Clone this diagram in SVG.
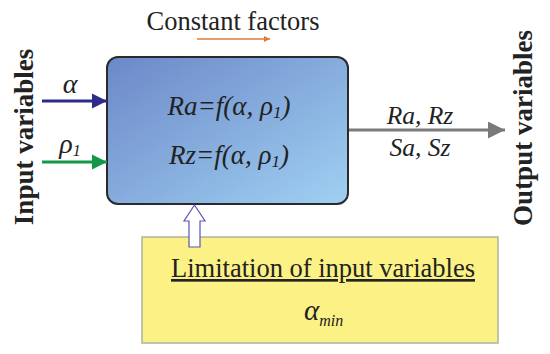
<svg xmlns="http://www.w3.org/2000/svg" width="550" height="354" viewBox="0 0 550 354">
<style>
  text { font-family: "Liberation Serif", "Times New Roman", serif; fill: #222; }
  .it { font-style: italic; }
  .bold { font-weight: bold; }
</style>
<defs>
  <linearGradient id="blueGrad" x1="0" y1="0" x2="1" y2="1">
    <stop offset="0" stop-color="#6c88c8"/>
    <stop offset="1" stop-color="#9fd0f2"/>
  </linearGradient>
  <marker id="mBlue" viewBox="0 0 10 10" refX="10" refY="5" markerWidth="15" markerHeight="16" markerUnits="userSpaceOnUse" orient="auto">
    <path d="M0,0 L10,5 L0,10 Z" fill="#2e2a8a"/>
  </marker>
  <marker id="mGreen" viewBox="0 0 10 10" refX="10" refY="5" markerWidth="15" markerHeight="16" markerUnits="userSpaceOnUse" orient="auto">
    <path d="M0,0 L10,5 L0,10 Z" fill="#13984a"/>
  </marker>
  <marker id="mGray" viewBox="0 0 10 10" refX="10" refY="5" markerWidth="18" markerHeight="17" markerUnits="userSpaceOnUse" orient="auto">
    <path d="M0,0 L10,5 L0,10 Z" fill="#7a7a7a"/>
  </marker>
  <marker id="mOrange" viewBox="0 0 10 10" refX="10" refY="5" markerWidth="7" markerHeight="6" markerUnits="userSpaceOnUse" orient="auto">
    <path d="M0,0 L10,5 L0,10 Z" fill="#e07a3a"/>
  </marker>
</defs>

<g id="constant-factors">
  <text x="233" y="30" font-size="26.5" text-anchor="middle">Constant factors</text>
</g>

<g id="input-label">
  <text class="bold" transform="translate(33,137) rotate(-90)" font-size="27" text-anchor="middle">Input variables</text>
</g>

<g id="output-label">
  <text class="bold" transform="translate(532,128) rotate(-90)" font-size="27" text-anchor="middle">Output variables</text>
</g>

<g id="model">
  <rect x="107" y="57" width="241" height="147" rx="11" ry="11" fill="url(#blueGrad)" stroke="#2a2a2a" stroke-width="2"/>
  <text class="it" x="229" y="115" font-size="27" text-anchor="middle">Ra=f(α, ρ<tspan font-size="17" dy="3">1</tspan><tspan dy="-3">)</tspan></text>
  <text class="it" x="229" y="164" font-size="27" text-anchor="middle">Rz=f(α, ρ<tspan font-size="17" dy="3">1</tspan><tspan dy="-3">)</tspan></text>
</g>

<g id="limitation">
  <rect x="142" y="237" width="356" height="106" fill="#fcf184" stroke="#b0b0a0" stroke-width="1.5"/>
  <text x="323" y="277" font-size="26.5" text-anchor="middle" text-decoration="underline">Limitation of input variables</text>
  <text class="it" x="304" y="320" font-size="29">α<tspan font-size="16" dy="6">min</tspan></text>
</g>

<g id="connectors">
  <line x1="42" y1="101" x2="107" y2="101" stroke="#2e2a8a" stroke-width="3" marker-end="url(#mBlue)"/>
  <text class="it" x="70" y="93" font-size="28" text-anchor="middle">α</text>
  <line x1="42" y1="162" x2="107" y2="162" stroke="#13984a" stroke-width="3" marker-end="url(#mGreen)"/>
  <text class="it" x="70" y="153" font-size="28" text-anchor="middle">ρ<tspan font-size="16" dy="3">1</tspan></text>
  <line x1="197" y1="39" x2="270" y2="39" stroke="#e07a3a" stroke-width="1.3" marker-end="url(#mOrange)"/>
  <line x1="349" y1="130" x2="505" y2="130" stroke="#7a7a7a" stroke-width="3" marker-end="url(#mGray)"/>
  <text class="it" x="420" y="124" font-size="25.5" text-anchor="middle">Ra, Rz</text>
  <text class="it" x="420" y="156" font-size="25.5" text-anchor="middle">Sa, Sz</text>
  <path d="M189,247 L189,221 L184,221 L194.5,205 L205,221 L200,221 L200,247 Z" fill="#ffffff" stroke="#5a55b5" stroke-width="1.2"/>
</g>
</svg>
